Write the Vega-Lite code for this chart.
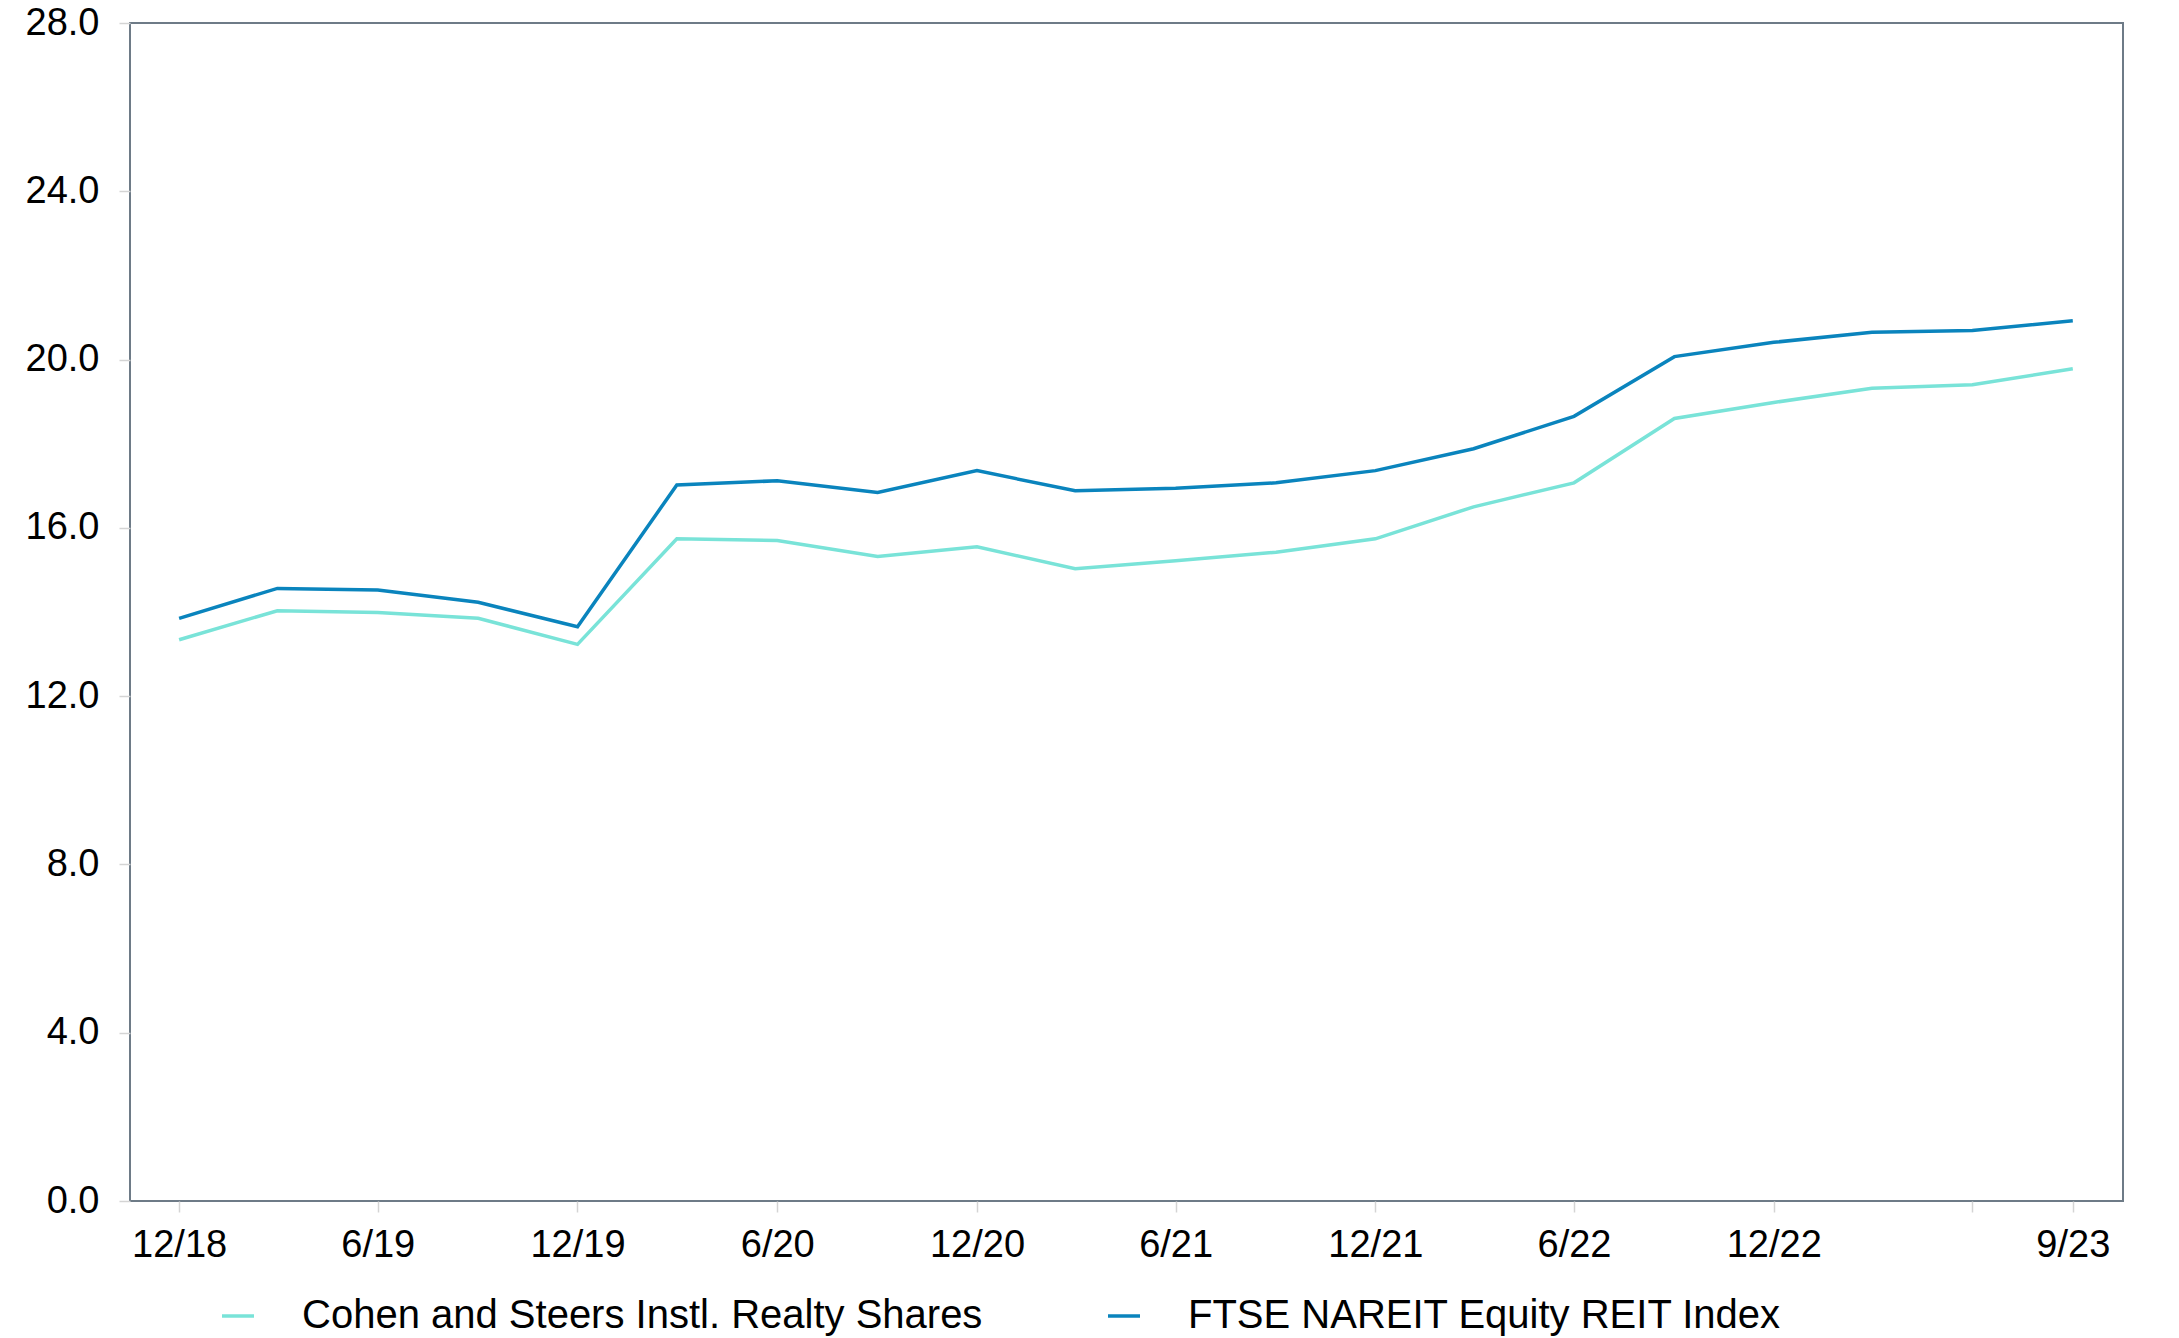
{
  "$schema": "https://vega.github.io/schema/vega-lite/v6.json",
  "width": 1993,
  "height": 1178,
  "autosize": {"type": "none"},
  "padding": {"left": 130, "top": 23, "right": 56, "bottom": 137},
  "background": "white",
  "config": {
    "font": "Liberation Sans",
    "view": {"stroke": "#6e7b87", "strokeWidth": 2},
    "axis": {"labelFont": "Liberation Sans", "labelColor": "#000000", "labelFontSize": 38, "grid": false, "domain": false, "tickColor": "#d4d4d4", "tickWidth": 1.5, "tickSize": 11, "title": null},
    "legend": {"labelFont": "Liberation Sans", "labelFontSize": 40, "labelColor": "#000000"}
  },
  "data": {
    "values": [
      {"date": "2018-12-01T00:00:00", "series": "Cohen and Steers Instl. Realty Shares", "value": 13.34},
      {"date": "2019-03-01T00:00:00", "series": "Cohen and Steers Instl. Realty Shares", "value": 14.03},
      {"date": "2019-06-01T00:00:00", "series": "Cohen and Steers Instl. Realty Shares", "value": 13.99},
      {"date": "2019-09-01T00:00:00", "series": "Cohen and Steers Instl. Realty Shares", "value": 13.85},
      {"date": "2019-12-01T00:00:00", "series": "Cohen and Steers Instl. Realty Shares", "value": 13.23},
      {"date": "2020-03-01T00:00:00", "series": "Cohen and Steers Instl. Realty Shares", "value": 15.74},
      {"date": "2020-06-01T00:00:00", "series": "Cohen and Steers Instl. Realty Shares", "value": 15.70},
      {"date": "2020-09-01T00:00:00", "series": "Cohen and Steers Instl. Realty Shares", "value": 15.32},
      {"date": "2020-12-01T00:00:00", "series": "Cohen and Steers Instl. Realty Shares", "value": 15.55},
      {"date": "2021-03-01T00:00:00", "series": "Cohen and Steers Instl. Realty Shares", "value": 15.03},
      {"date": "2021-06-01T00:00:00", "series": "Cohen and Steers Instl. Realty Shares", "value": 15.22},
      {"date": "2021-09-01T00:00:00", "series": "Cohen and Steers Instl. Realty Shares", "value": 15.42},
      {"date": "2021-12-01T00:00:00", "series": "Cohen and Steers Instl. Realty Shares", "value": 15.74},
      {"date": "2022-03-01T00:00:00", "series": "Cohen and Steers Instl. Realty Shares", "value": 16.50},
      {"date": "2022-06-01T00:00:00", "series": "Cohen and Steers Instl. Realty Shares", "value": 17.07},
      {"date": "2022-09-01T00:00:00", "series": "Cohen and Steers Instl. Realty Shares", "value": 18.60},
      {"date": "2022-12-01T00:00:00", "series": "Cohen and Steers Instl. Realty Shares", "value": 18.98},
      {"date": "2023-03-01T00:00:00", "series": "Cohen and Steers Instl. Realty Shares", "value": 19.32},
      {"date": "2023-06-01T00:00:00", "series": "Cohen and Steers Instl. Realty Shares", "value": 19.40},
      {"date": "2023-09-01T00:00:00", "series": "Cohen and Steers Instl. Realty Shares", "value": 19.78},
      {"date": "2018-12-01T00:00:00", "series": "FTSE NAREIT Equity REIT Index", "value": 13.85},
      {"date": "2019-03-01T00:00:00", "series": "FTSE NAREIT Equity REIT Index", "value": 14.56},
      {"date": "2019-06-01T00:00:00", "series": "FTSE NAREIT Equity REIT Index", "value": 14.52},
      {"date": "2019-09-01T00:00:00", "series": "FTSE NAREIT Equity REIT Index", "value": 14.23},
      {"date": "2019-12-01T00:00:00", "series": "FTSE NAREIT Equity REIT Index", "value": 13.65},
      {"date": "2020-03-01T00:00:00", "series": "FTSE NAREIT Equity REIT Index", "value": 17.02},
      {"date": "2020-06-01T00:00:00", "series": "FTSE NAREIT Equity REIT Index", "value": 17.12},
      {"date": "2020-09-01T00:00:00", "series": "FTSE NAREIT Equity REIT Index", "value": 16.84},
      {"date": "2020-12-01T00:00:00", "series": "FTSE NAREIT Equity REIT Index", "value": 17.36},
      {"date": "2021-03-01T00:00:00", "series": "FTSE NAREIT Equity REIT Index", "value": 16.88},
      {"date": "2021-06-01T00:00:00", "series": "FTSE NAREIT Equity REIT Index", "value": 16.94},
      {"date": "2021-09-01T00:00:00", "series": "FTSE NAREIT Equity REIT Index", "value": 17.07},
      {"date": "2021-12-01T00:00:00", "series": "FTSE NAREIT Equity REIT Index", "value": 17.36},
      {"date": "2022-03-01T00:00:00", "series": "FTSE NAREIT Equity REIT Index", "value": 17.88},
      {"date": "2022-06-01T00:00:00", "series": "FTSE NAREIT Equity REIT Index", "value": 18.65},
      {"date": "2022-09-01T00:00:00", "series": "FTSE NAREIT Equity REIT Index", "value": 20.07},
      {"date": "2022-12-01T00:00:00", "series": "FTSE NAREIT Equity REIT Index", "value": 20.41},
      {"date": "2023-03-01T00:00:00", "series": "FTSE NAREIT Equity REIT Index", "value": 20.65},
      {"date": "2023-06-01T00:00:00", "series": "FTSE NAREIT Equity REIT Index", "value": 20.69},
      {"date": "2023-09-01T00:00:00", "series": "FTSE NAREIT Equity REIT Index", "value": 20.92}
    ]
  },
  "mark": {"type": "line", "strokeWidth": 3.5, "interpolate": "linear"},
  "encoding": {
    "x": {
      "field": "date",
      "type": "temporal",
      "scale": {"domain": [{"year": 2018, "month": 10, "date": 17}, {"year": 2023, "month": 10, "date": 17}]},
      "axis": {
        "format": "%-m/%y",
        "labelPadding": 14,
        "values": [
          {"year": 2018, "month": 12, "date": 1},
          {"year": 2019, "month": 6, "date": 1},
          {"year": 2019, "month": 12, "date": 1},
          {"year": 2020, "month": 6, "date": 1},
          {"year": 2020, "month": 12, "date": 1},
          {"year": 2021, "month": 6, "date": 1},
          {"year": 2021, "month": 12, "date": 1},
          {"year": 2022, "month": 6, "date": 1},
          {"year": 2022, "month": 12, "date": 1},
          {"year": 2023, "month": 6, "date": 1},
          {"year": 2023, "month": 9, "date": 1}
        ],
        "labelExpr": "(year(datum.value) == 2023 && month(datum.value) == 5) ? '' : datum.label"
      }
    },
    "y": {
      "field": "value",
      "type": "quantitative",
      "scale": {"domain": [0, 28], "nice": false},
      "axis": {"values": [0, 4, 8, 12, 16, 20, 24, 28], "format": ".1f", "labelPadding": 20}
    },
    "color": {
      "field": "series",
      "type": "nominal",
      "scale": {"domain": ["Cohen and Steers Instl. Realty Shares", "FTSE NAREIT Equity REIT Index"], "range": ["#79e3d8", "#0a84bd"]},
      "legend": {
        "title": null,
        "orient": "none",
        "direction": "horizontal",
        "legendX": 88,
        "legendY": 1273,
        "symbolType": "stroke",
        "symbolSize": 1024,
        "symbolStrokeWidth": 3.5,
        "labelOffset": 44,
        "labelLimit": 1000,
        "columnPadding": 118
      }
    }
  }
}
